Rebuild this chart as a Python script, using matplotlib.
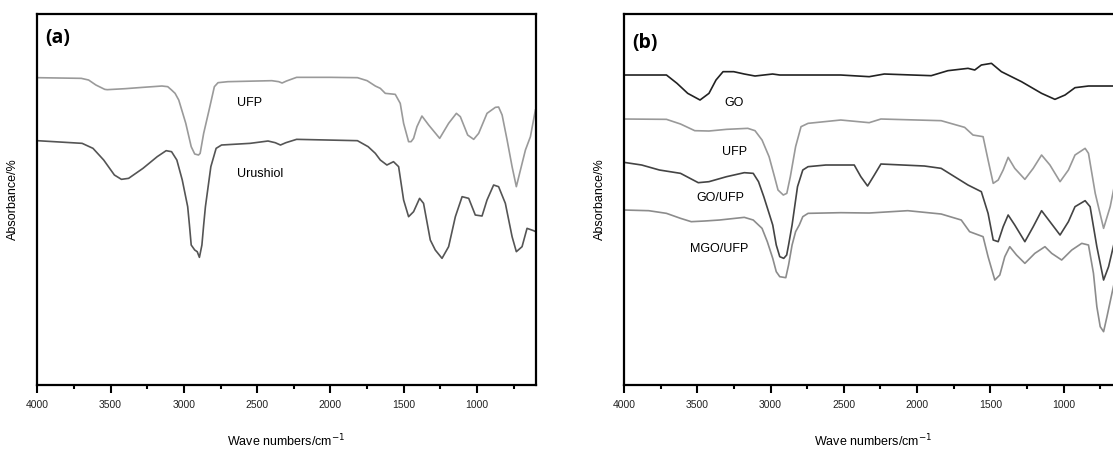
import matplotlib
matplotlib.use("Agg")
import matplotlib.pyplot as plt
from matplotlib.ticker import MultipleLocator

plt.rcParams["font.family"] = ["Liberation Sans", "DejaVu Sans"]

# (a) UFP and urushiol (arbitrary absorbance units)
ufp_a_wn = [4000, 3700, 3650, 3600, 3540, 3523, 3400, 3279, 3150, 3110, 3084, 3060, 3035, 2987,
            2950, 2926, 2900, 2889, 2865, 2828, 2792, 2767, 2700, 2500, 2400, 2353, 2330, 2300,
            2231, 2000, 1816, 1750, 1694, 1660, 1626, 1558, 1524, 1501, 1467, 1450, 1433, 1410,
            1376, 1330, 1255, 1194, 1141, 1114, 1064, 1023, 989, 932, 875, 853, 829, 795, 761,
            732, 704, 670, 636, 602]
ufp_a = [92.2, 92.0, 91.5, 90.0, 88.7, 88.6, 88.9, 89.3, 89.7, 89.5, 88.5, 87.5, 85.5, 78.5,
         71.5, 69.3, 69.0, 69.5, 75.5, 82.5, 89.5, 90.7, 91.0, 91.2, 91.3, 91.0, 90.6, 91.2,
         92.3, 92.3, 92.2, 91.3, 89.7, 89.0, 87.5, 87.2, 84.5, 78.5, 73.0, 73.0, 74.0, 77.5,
         80.7, 78.0, 74.0, 78.5, 81.5, 80.5, 75.0, 73.7, 75.5, 81.5, 83.3, 83.4, 81.0, 73.5, 65.5,
         59.5, 64.5, 70.5, 74.5, 82.5]

uru_wn = [4000, 3694, 3620, 3547, 3474, 3426, 3377, 3279, 3182, 3121, 3084, 3048, 3011, 2974,
          2962, 2950, 2926, 2909, 2894, 2877, 2865, 2853, 2816, 2780, 2743, 2548, 2426, 2377,
          2341, 2304, 2231, 1816, 1743, 1694, 1660, 1615, 1570, 1535, 1501, 1467, 1433, 1392,
          1365, 1319, 1285, 1239, 1194, 1148, 1102, 1057, 1012, 966, 932, 887, 853, 807, 761,
          732, 693, 659, 614, 600]
uru = [73.3, 72.5, 71.0, 67.5, 63.0, 61.7, 62.0, 65.0, 68.5, 70.3, 70.0, 67.5, 61.5, 53.5,
       48.0, 42.0, 40.5, 40.0, 38.3, 42.0, 48.0, 53.5, 65.5, 71.0, 72.0, 72.5, 73.2, 72.7,
       72.0, 72.7, 73.7, 73.3, 71.5, 69.5, 67.5, 66.0, 67.0, 65.5, 55.5, 50.5, 52.0, 56.0,
       54.5, 43.5, 40.5, 38.0, 41.5, 50.5, 56.5, 56.0, 51.0, 50.7, 55.5, 60.0, 59.5, 54.5, 44.5,
       40.0, 41.5, 47.0, 46.3, 46.0]

# (b) GO, UFP, GO/UFP, MGO/UFP
go_wn = [4000, 3710, 3638, 3565, 3481, 3420, 3372, 3324, 3251, 3179, 3106, 2986, 2937, 2744,
         2521, 2327, 2224, 1904, 1790, 1653, 1607, 1562, 1493, 1425, 1288, 1151, 1060, 991,
         923, 831, 651, 600]
go = [93.0, 93.0, 90.5, 87.5, 85.5, 87.5, 91.5, 94.0, 94.0, 93.3, 92.7, 93.3, 93.0, 93.0,
      93.0, 92.5, 93.3, 92.8, 94.3, 95.0, 94.5, 96.0, 96.5, 94.0, 91.0, 87.5, 85.7, 87.0,
      89.2, 89.7, 89.7, 89.7]

ufp_b_wn = [4000, 3710, 3614, 3517, 3420, 3300, 3155, 3106, 3058, 3010, 2973, 2949, 2913, 2889,
            2865, 2829, 2792, 2744, 2521, 2327, 2247, 1836, 1676, 1619, 1550, 1516, 1481, 1447,
            1413, 1379, 1334, 1265, 1208, 1151, 1094, 1025, 968, 923, 854, 831, 785, 728, 683,
            651, 600]
ufp_b = [79.8, 79.7, 78.3, 76.3, 76.2, 76.7, 77.0, 76.3, 73.5, 68.5, 62.5, 58.5, 57.0, 57.5,
         62.5, 71.5, 77.5, 78.5, 79.5, 78.7, 79.8, 79.3, 77.3, 75.0, 74.5, 67.5, 60.5, 61.5,
         64.5, 68.3, 65.0, 61.7, 65.0, 69.0, 66.0, 61.0, 64.5, 69.0, 71.0, 69.5, 57.5, 47.0, 53.5,
         60.5, 70.0]

goufp_wn = [4000, 3879, 3758, 3614, 3493, 3420, 3300, 3179, 3118, 3082, 3046, 3010, 2985, 2961,
            2937, 2910, 2890, 2877, 2853, 2816, 2780, 2744, 2623, 2521, 2429, 2384, 2338, 2292,
            2247, 1950, 1836, 1653, 1562, 1516, 1481, 1447, 1413, 1379, 1334, 1265, 1208, 1151,
            1094, 1025, 968, 923, 854, 820, 774, 728, 694, 651, 600]
goufp = [66.8, 66.0, 64.5, 63.5, 60.7, 61.0, 62.5, 63.7, 63.5, 61.0, 56.5, 51.5, 48.0, 42.0,
         38.5, 38.0, 39.0, 42.0, 48.0, 59.5, 64.5, 65.5, 66.0, 66.0, 66.0, 62.5, 59.7, 63.0,
         66.3, 65.7, 65.0, 60.0, 58.0, 51.5, 43.5, 43.0, 47.5, 51.0, 48.0, 43.0, 47.5, 52.3,
         49.0, 45.0, 49.0, 53.5, 55.3, 53.5, 41.5, 31.5, 35.5, 43.5, 48.0]

mgo_wn = [4000, 3831, 3710, 3614, 3541, 3450, 3348, 3179, 3118, 3082, 3058, 3022, 2985, 2961,
          2937, 2896, 2877, 2853, 2829, 2804, 2780, 2744, 2521, 2327, 2064, 1836, 1699, 1642,
          1550, 1516, 1470, 1436, 1402, 1368, 1322, 1265, 1197, 1128, 1082, 1014, 945, 877,
          831, 797, 774, 751, 728, 705, 671, 651, 600]
mgo = [52.5, 52.3, 51.5, 50.0, 49.0, 49.2, 49.5, 50.3, 49.5, 48.0, 47.0, 43.0, 38.0, 34.0,
       32.5, 32.2, 36.0, 42.0, 46.0, 48.0, 50.5, 51.5, 51.7, 51.6, 52.3, 51.3, 49.5, 46.0,
       44.5, 38.5, 31.5, 33.0, 38.5, 41.5, 39.0, 36.5, 39.5, 41.5, 39.5, 37.5, 40.5, 42.5,
       42.0, 33.5, 23.5, 17.5, 16.0, 20.5, 27.5, 31.5, 36.0]

fig = plt.figure(figsize=(11.13, 4.49), dpi=100)
ax1 = fig.add_axes([0.0335, 0.1425, 0.4478, 0.8263])
ax2 = fig.add_axes([0.5606, 0.1425, 0.4478, 0.8263])

ax1.plot(ufp_a_wn, ufp_a, color="#9a9a9a", lw=1.2)
ax1.plot(uru_wn, uru, color="#555555", lw=1.2)
ax1.text(2640, 84.6, "UFP", fontsize=9, ha="left", va="center")
ax1.text(2640, 63.3, "Urushiol", fontsize=9, ha="left", va="center")

ax2.plot(go_wn, go, color="#222222", lw=1.2)
ax2.plot(ufp_b_wn, ufp_b, color="#999999", lw=1.2)
ax2.plot(goufp_wn, goufp, color="#444444", lw=1.2)
ax2.plot(mgo_wn, mgo, color="#8c8c8c", lw=1.2)
ax2.text(3247, 84.6, "GO", fontsize=9, ha="center", va="center")
ax2.text(3247, 69.9, "UFP", fontsize=9, ha="center", va="center")
ax2.text(3342, 56.1, "GO/UFP", fontsize=9, ha="center", va="center")
ax2.text(3349, 40.8, "MGO/UFP", fontsize=9, ha="center", va="center")

for ax, tag, ty in [(ax1, "(a)", 0.935), (ax2, "(b)", 0.922)]:
    ax.set_xlim(4000, 600)
    ax.set_ylim(0, 111.3)
    ax.set_yticks([])
    ax.xaxis.set_major_locator(MultipleLocator(500))
    ax.xaxis.set_minor_locator(MultipleLocator(250))
    ax.tick_params(axis="x", which="major", length=6, width=1.5, pad=5,
                   labelsize=7.5, labelcolor="#222222")
    ax.tick_params(axis="x", which="minor", length=3, width=1.5)
    for s in ax.spines.values():
        s.set_linewidth(1.6)
    ax.set_xlabel("Wave numbers/cm$^{-1}$", fontsize=9, labelpad=16)
    ax.set_ylabel("Absorbance/%", fontsize=9, labelpad=13)
    ax.text(0.016, ty, tag, transform=ax.transAxes, fontsize=14, fontweight="bold",
            family=["Open Sans", "DejaVu Sans"], ha="left", va="center")

fig.savefig("out.png", dpi=100)
